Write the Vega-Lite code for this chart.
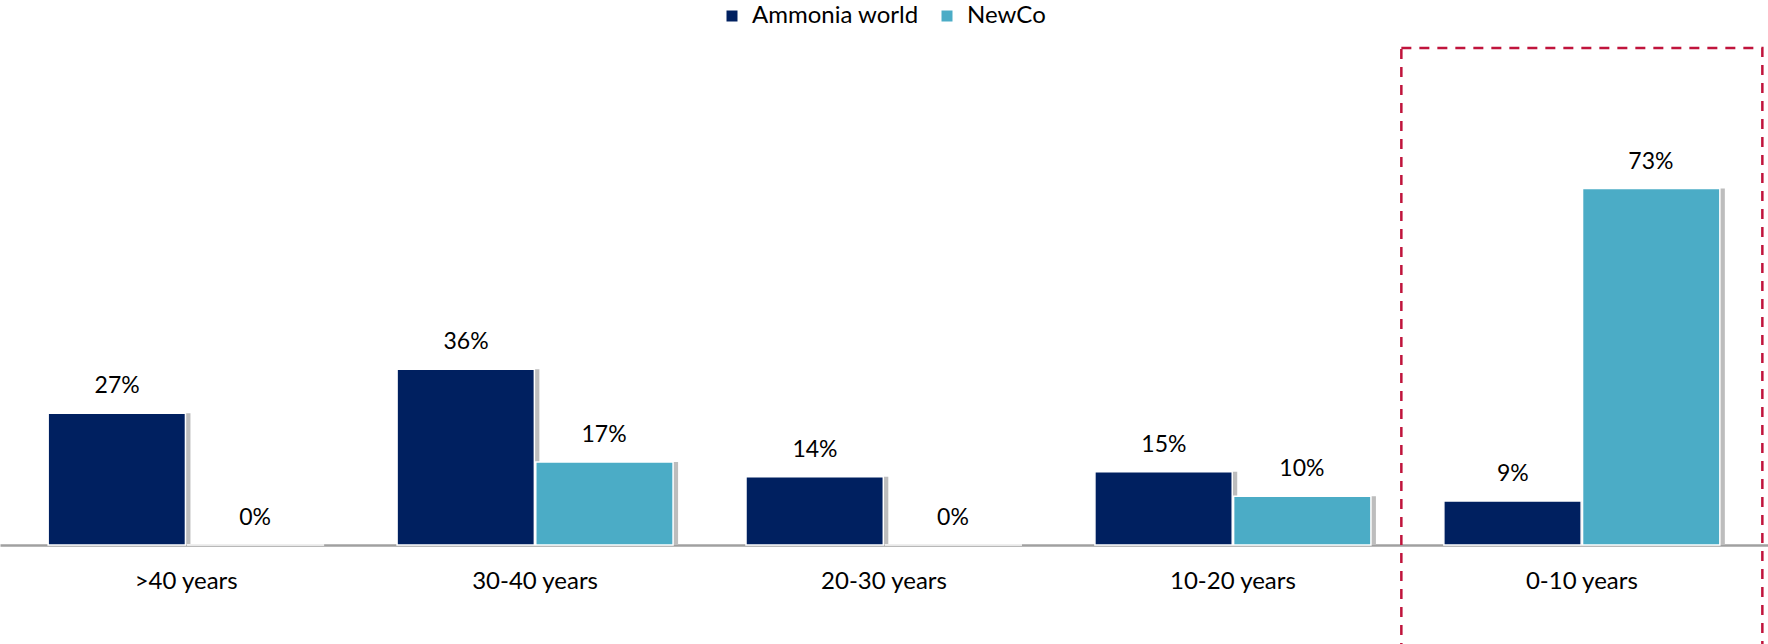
{
  "$schema": "https://vega.github.io/schema/vega-lite/v6.json",
  "width": 1768,
  "height": 498,
  "autosize": {"type": "none"},
  "padding": {"left": 0, "right": 0, "top": 47, "bottom": 99},
  "config": {
    "view": {"stroke": null},
    "font": "Lato",
    "axisX": {
      "title": null,
      "domainColor": "#a0a0a0",
      "domainWidth": 2.5,
      "ticks": false,
      "tickSize": 0,
      "labelFontSize": 24,
      "labelColor": "#000000",
      "labelPadding": 24,
      "labelAngle": 0,
      "grid": false,
      "zindex": 1
    },
    "legend": {
      "orient": "none",
      "legendX": 720,
      "legendY": -43,
      "direction": "horizontal",
      "symbolType": "square",
      "symbolSize": 121,
      "symbolStrokeWidth": 0,
      "labelFontSize": 24,
      "labelColor": "#000000",
      "labelOffset": 8,
      "labelLimit": 0,
      "columnPadding": 16,
      "title": null
    }
  },
  "resolve": {"scale": {"xOffset": "independent"}},
  "datasets": {
    "bars": [
      {"cat": ">40 years", "series": "Ammonia world", "value": 0.27},
      {"cat": ">40 years", "series": "NewCo", "value": 0.0},
      {"cat": "30-40 years", "series": "Ammonia world", "value": 0.36},
      {"cat": "30-40 years", "series": "NewCo", "value": 0.17},
      {"cat": "20-30 years", "series": "Ammonia world", "value": 0.14},
      {"cat": "20-30 years", "series": "NewCo", "value": 0.0},
      {"cat": "10-20 years", "series": "Ammonia world", "value": 0.15},
      {"cat": "10-20 years", "series": "NewCo", "value": 0.10},
      {"cat": "0-10 years", "series": "Ammonia world", "value": 0.09},
      {"cat": "0-10 years", "series": "NewCo", "value": 0.73}
    ],
    "box": [{"cat": "0-10 years"}]
  },
  "layer": [
    {
      "data": {"name": "bars"},
      "transform": [{"filter": "datum.value > 0"}],
      "mark": {"type": "bar", "color": "#bdbdbd"},
      "encoding": {
        "x": {"field": "cat", "type": "nominal", "sort": [">40 years", "30-40 years", "20-30 years", "10-20 years", "0-10 years"], "scale": {"paddingInner": 0.209, "paddingOuter": 0.138}, "title": null},
        "xOffset": {"field": "series", "type": "nominal", "sort": ["Ammonia world", "NewCo"], "scale": {"paddingInner": 0.01, "range": [5, 281]}},
        "y": {"field": "value", "type": "quantitative", "scale": {"domain": [0, 1.02], "nice": false}, "axis": null}
      }
    },
    {
      "data": {"name": "bars"},
      "mark": {"type": "bar", "stroke": "#ffffff", "strokeWidth": 1.5},
      "encoding": {
        "x": {"field": "cat", "type": "nominal", "sort": [">40 years", "30-40 years", "20-30 years", "10-20 years", "0-10 years"], "title": null},
        "xOffset": {"field": "series", "type": "nominal", "sort": ["Ammonia world", "NewCo"], "scale": {"paddingInner": 0.01}},
        "y": {"field": "value", "type": "quantitative", "axis": null},
        "color": {"field": "series", "type": "nominal", "sort": ["Ammonia world", "NewCo"], "scale": {"domain": ["Ammonia world", "NewCo"], "range": ["#002060", "#4BACC6"]}}
      }
    },
    {
      "data": {"name": "bars"},
      "mark": {"type": "text", "dy": -20, "baseline": "alphabetic", "align": "center", "fontSize": 23, "color": "#000000"},
      "encoding": {
        "x": {"field": "cat", "type": "nominal", "sort": [">40 years", "30-40 years", "20-30 years", "10-20 years", "0-10 years"], "title": null},
        "xOffset": {"field": "series", "type": "nominal", "sort": ["Ammonia world", "NewCo"], "scale": {"paddingInner": 0.01}},
        "y": {"field": "value", "type": "quantitative", "axis": null},
        "text": {"field": "value", "type": "quantitative", "format": ".0%"}
      }
    },
    {
      "data": {"name": "box"},
      "mark": {"type": "rect", "filled": false, "stroke": "#C0143C", "strokeWidth": 2.5, "strokeDash": [10, 8], "width": {"band": 1.308}},
      "encoding": {
        "x": {"field": "cat", "type": "nominal", "sort": [">40 years", "30-40 years", "20-30 years", "10-20 years", "0-10 years"], "title": null},
        "y": {"datum": 1.018, "type": "quantitative", "axis": null},
        "y2": {"datum": -0.3}
      }
    }
  ]
}
